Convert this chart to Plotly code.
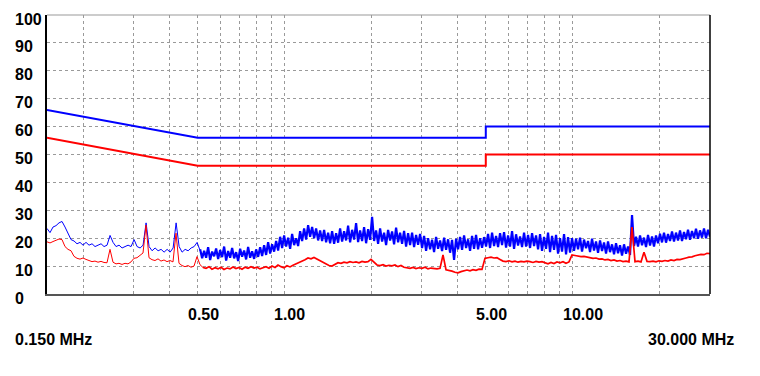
import numpy as np
import plotly.graph_objects as go

# ---- data ----
# peak detector, 0.15 - 0.51 MHz (coarser part of the sweep)
peak_low_dbuv = [
    23.5, 22.0, 24.0, 24.5, 25.5, 26.0, 24.0, 21.5, 19.5, 19.0,
    18.0, 18.5, 17.5, 18.5, 17.5, 18.0, 17.0, 17.5, 18.0, 17.0,
    17.5, 21.0, 18.5, 17.0, 17.5, 16.5, 17.0, 17.5, 17.0, 19.5,
    17.0, 16.5, 17.5, 25.5, 17.0, 15.5, 16.5, 15.5, 16.0, 15.0,
    16.0, 15.0, 16.5, 25.5, 17.0, 15.0, 16.0, 15.5, 16.5, 17.0,
    18.5, 15.5,
]

# peak detector, 0.51 - 30 MHz (dense, noisy part of the sweep)
peak_high_dbuv = [
    16.0, 12.8, 15.5, 13.0, 16.8, 12.2, 15.2, 13.5, 16.3, 12.5,
    15.8, 13.2, 17.0, 12.0, 15.4, 13.0, 16.5, 12.8, 15.0, 11.8,
    16.2, 13.4, 15.6, 12.4, 16.9, 13.0, 15.3, 12.6, 16.0, 13.3,
    16.8, 13.6, 17.5, 14.0, 18.6, 14.5, 17.8, 15.2, 19.0, 15.6,
    20.5, 16.5, 21.0, 17.0, 20.2, 16.2, 21.5, 17.5, 20.0, 17.2,
    22.5, 19.0, 23.5, 19.5, 24.7, 20.5, 24.0, 20.0,
    23.5, 19.2, 22.8, 19.0, 23.0, 18.5, 22.0, 18.2, 22.5, 18.0, 21.8, 18.4,
    23.5, 18.8, 22.5, 19.2, 24.5, 18.5, 23.0, 19.5, 25.4, 18.6, 22.8, 19.0, 24.0, 18.2, 23.2, 19.4,
    27.7,
    19.0, 22.8, 18.0, 23.5, 18.8, 22.0, 17.5, 23.0, 19.2, 22.4, 17.8, 23.8, 18.5, 22.0, 18.0, 22.6,
    17.0, 21.8, 17.5, 22.0, 16.8, 21.2, 17.6, 21.5, 16.5, 20.8,
    15.5, 20.0, 16.0, 19.5, 15.0, 20.5, 16.2, 19.2, 15.4, 20.2, 15.8, 19.6, 14.8, 19.4,
    12.2,
    19.8, 16.0, 20.5, 15.8, 21.0, 16.5, 19.6, 15.5, 20.8, 16.2, 21.2, 16.0, 20.0, 16.6, 20.4,
    17.0, 21.5, 16.5, 22.0, 17.2, 20.8, 16.8, 21.8, 17.5, 22.2,
    16.6, 21.0, 17.0, 22.5, 16.2, 21.4, 17.4, 20.6, 16.8, 22.0,
    17.0, 21.2, 16.5, 21.8, 17.2,
    21.0, 16.0, 21.5, 15.5, 20.5, 16.2, 22.0, 15.0, 20.8, 15.8,
    21.2, 14.5, 20.0, 15.2, 21.5, 14.2, 20.4, 14.8, 20.0,
    15.5, 19.8, 16.0, 20.2, 15.2, 19.5, 16.4, 19.0, 15.0, 19.8,
    15.6, 18.8, 14.8, 19.2, 15.4, 18.5, 14.5, 18.8, 15.0, 17.8,
    14.2, 18.2, 14.6, 17.5, 13.8, 17.8, 14.4, 17.0, 14.0,
    28.3,
    17.2, 20.5, 17.0, 21.0, 17.5, 20.2, 16.8, 21.2, 17.4, 20.6, 17.0, 21.0,
    18.2, 21.6, 18.5, 22.0, 18.4, 21.5, 19.0, 22.4, 18.8, 22.0,
    19.2, 22.8, 19.0, 22.2, 19.6, 23.0, 19.4, 22.6, 20.0, 23.4,
    19.8, 22.8, 20.2, 23.5, 20.0, 23.0, 20.5,
]

# average detector, 0.15 - 30 MHz
avg_dbuv = [
    18.7, 18.3, 18.8, 19.2, 19.7, 19.5, 17.0, 16.0, 15.5, 13.5,
    12.8, 12.5, 12.9, 12.4, 12.0, 11.6, 11.8, 11.4, 11.7, 11.3,
    11.2, 16.0, 11.4, 10.8, 11.0, 10.6, 11.0, 10.8, 11.5, 12.8,
    13.0, 13.8, 14.7, 24.7, 13.0, 12.3, 12.0, 12.6, 11.8, 12.2,
    11.6, 12.0, 11.5, 21.8, 11.0, 10.2, 9.8, 10.2, 9.6, 10.0,
    13.4, 10.5, 9.5, 9.2, 9.8, 8.9, 9.4, 9.0, 9.6, 8.8,
    9.3, 9.0, 9.7, 9.1, 9.5, 8.9, 9.6, 9.2, 9.8, 9.3,
    9.6, 9.0, 9.4, 9.8, 9.2, 10.0, 9.5, 10.4, 9.8, 9.4,
    10.1, 9.7, 10.3, 10.8, 11.2, 11.6, 12.3, 12.9, 12.6, 13.1,
    12.5, 11.8, 11.4, 10.6, 10.2, 10.0, 10.6, 11.2, 11.0, 11.4,
    11.2, 11.6, 11.3, 11.5, 11.2, 11.7, 11.4, 11.6, 12.4, 11.2,
    10.4, 10.2, 10.5, 10.0, 10.3, 10.1, 10.4, 9.8, 10.2, 9.6,
    9.4, 9.2, 9.5, 9.1, 9.4, 9.2, 9.6, 9.0, 9.3, 9.1,
    9.0, 9.2, 14.0, 8.7, 8.5, 8.2, 7.8, 7.6, 8.0, 8.3,
    8.6, 8.3, 8.7, 8.5, 8.9, 8.8, 12.8, 13.0, 13.2, 12.9,
    13.0, 12.4, 11.8, 11.6, 11.9, 11.5, 11.8, 11.4, 11.7, 11.5,
    11.8, 11.6, 11.3, 11.7, 11.4, 11.6, 11.2, 10.8, 11.3, 10.9,
    11.5, 11.2, 11.6, 11.0, 11.5, 14.0, 13.8, 13.6, 13.4, 13.5,
    13.2, 13.0, 12.8, 12.9, 12.5, 12.6, 12.2, 12.4, 12.0, 12.2,
    11.8, 12.0, 11.6, 11.8, 11.5, 24.0, 11.6, 11.8, 11.5, 15.0,
    11.7, 11.6, 11.8, 11.5, 11.9, 11.7, 12.0, 11.8, 12.2, 12.0,
    12.4, 12.3, 12.7, 12.9, 13.2, 13.3, 13.7, 13.9, 14.2, 14.1,
    14.6, 14.5,
]

f_start, f_split, f_stop = 0.15, 0.51, 30.0

limit_freq = [0.15, 0.5, 5.0, 5.0, 30.0]
qp_limit = [66, 56, 56, 60, 60]
avg_limit = [56, 46, 46, 50, 50]

x_grid = [0.2, 0.3, 0.4, 0.5, 0.6, 0.7, 0.8, 0.9, 1, 2, 3, 4, 5, 6, 7, 8, 9, 10, 20]
x_labels = [(0.5, "0.50"), (1.0, "1.00"), (5.0, "5.00"), (10.0, "10.00")]
y_grid = [10, 20, 30, 40, 50, 60, 70, 80, 90]
y_labels = [0, 10, 20, 30, 40, 50, 60, 70, 80, 90, 100]

# sweep frequency grids (log-spaced receiver steps)
freq_low = np.geomspace(f_start, f_split, len(peak_low_dbuv))
freq_high = np.geomspace(f_split, f_stop, len(peak_high_dbuv))
freq_avg = np.geomspace(f_start, f_stop, len(avg_dbuv))
n_avg_low = int(np.searchsorted(freq_avg, f_split))

# ---- figure (page body has an 8px margin) ----
W, H = 752, 368
L, T = 39, 7
plot_w, plot_h = 663, 279
R = W - L - plot_w
B = H - T - plot_h
PLOT_LEFT_PAGE = 47

fig = go.Figure()
fig.add_trace(go.Scatter(x=freq_low, y=peak_low_dbuv, mode="lines",
                         line=dict(color="#0000FF", width=1), hoverinfo="skip"))
fig.add_trace(go.Scatter(x=freq_high, y=peak_high_dbuv, mode="lines",
                         line=dict(color="#0000FF", width=2.2), hoverinfo="skip"))
fig.add_trace(go.Scatter(x=freq_avg[:n_avg_low + 1], y=avg_dbuv[:n_avg_low + 1], mode="lines",
                         line=dict(color="#FF0000", width=1), hoverinfo="skip"))
fig.add_trace(go.Scatter(x=freq_avg[n_avg_low:], y=avg_dbuv[n_avg_low:], mode="lines",
                         line=dict(color="#FF0000", width=1.7), hoverinfo="skip"))
fig.add_trace(go.Scatter(x=limit_freq, y=qp_limit, mode="lines",
                         line=dict(color="#0000FF", width=2), hoverinfo="skip"))
fig.add_trace(go.Scatter(x=limit_freq, y=avg_limit, mode="lines",
                         line=dict(color="#FF0000", width=2), hoverinfo="skip"))

font = dict(family="Liberation Sans, Arial, sans-serif", size=16, color="#000000", weight="bold")
ann = []
for v in y_labels:
    ann.append(dict(x=(13 - PLOT_LEFT_PAGE) / plot_w, xref="paper", y=v, yref="y", text=str(v),
                    showarrow=False, xanchor="left", yanchor="middle", yshift=-4, font=font))
for f, t in x_labels:
    ann.append(dict(x=np.log10(f), xref="x", y=0, yref="paper", text=t, showarrow=False,
                    xanchor="left", yanchor="middle", xshift=-12, yshift=-20, font=font))
ann.append(dict(x=(13 - PLOT_LEFT_PAGE) / plot_w, xref="paper", y=0, yref="paper", text="0.150 MHz",
                showarrow=False, xanchor="left", yanchor="middle", yshift=-45, font=font))
ann.append(dict(x=(736 - PLOT_LEFT_PAGE) / plot_w, xref="paper", y=0, yref="paper", text="30.000 MHz",
                showarrow=False, xanchor="right", yanchor="middle", yshift=-45, font=font))

shapes = [
    dict(type="line", xref="paper", yref="paper", x0=0, x1=1, y0=1, y1=1,
         line=dict(color="#999999", width=1)),
    dict(type="line", xref="paper", yref="paper", x0=1, x1=1, y0=0, y1=1,
         line=dict(color="#000000", width=1.5)),
]

fig.update_layout(
    width=W, height=H, autosize=False,
    margin=dict(l=L, r=R, t=T, b=B, pad=0),
    paper_bgcolor="white", plot_bgcolor="white",
    showlegend=False,
    annotations=ann, shapes=shapes,
    xaxis=dict(type="log", range=[np.log10(f_start), np.log10(f_stop)],
               tickvals=x_grid, showticklabels=False, ticks="",
               showgrid=True, gridcolor="#9a9a9a", gridwidth=1, griddash="3px,3px",
               showline=True, linecolor="#555555", linewidth=2, zeroline=False),
    yaxis=dict(range=[0, 100], tickvals=y_grid, showticklabels=False, ticks="",
               showgrid=True, gridcolor="#9a9a9a", gridwidth=1, griddash="3px,3px",
               showline=True, linecolor="#000000", linewidth=2, zeroline=False),
)

fig.write_html("out.html")
